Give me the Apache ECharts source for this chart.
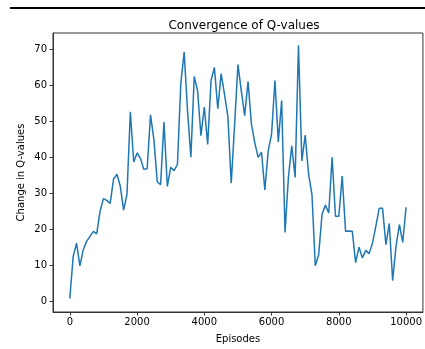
<!DOCTYPE html>
<html>
<head>
<meta charset="utf-8">
<script src="https://cdn.jsdelivr.net/npm/echarts@6/dist/echarts.min.js"></script>
<style>
  html, body { margin: 0; padding: 0; background: #fff; }
  #chart { width: 425px; height: 349px; }
</style>
</head>
<body>
<div id="chart"></div>
<script>
// Episodes sampled every 100 steps
const episodes = [];
for (let e = 0; e <= 10000; e += 100) episodes.push(e);

// Change in Q-values per sampled episode
const qChange = [
  0.7, 12.4, 16.1, 9.8, 14.3, 16.6, 18.0, 19.4, 18.7, 25.0,
  28.5, 28.0, 27.2, 33.9, 35.3, 32.0, 25.3, 29.7, 52.7, 38.7,
  41.2, 39.7, 36.7, 36.8, 51.8, 45.0, 33.2, 32.4, 49.8, 31.9,
  37.2, 36.3, 38.0, 60.5, 69.3, 53.0, 40.0, 62.5, 58.5, 46.0,
  54.0, 43.6, 61.4, 65.0, 53.5, 63.3, 57.5, 51.4, 32.8, 49.0,
  65.8, 58.5, 51.6, 61.1, 49.3, 44.1, 40.0, 41.4, 30.9, 41.8,
  46.5, 61.4, 44.3, 55.8, 19.1, 34.4, 43.2, 34.4, 71.2, 39.0,
  46.2, 35.3, 29.7, 9.8, 12.9, 24.1, 26.7, 24.5, 40.0, 23.6,
  23.6, 34.8, 19.4, 19.5, 19.4, 10.7, 15.0, 12.0, 14.1, 13.2,
  16.1, 20.8, 25.8, 25.8, 15.7, 21.6, 5.7, 15.2, 21.3, 16.3,
  26.1
];

const xTicks = [0, 2000, 4000, 6000, 8000, 10000];
const yTicks = [0, 10, 20, 30, 40, 50, 60, 70];

const font = 'DejaVu Sans';
const chart = echarts.init(document.getElementById('chart'), null, { renderer: 'canvas' });

chart.setOption({
  animation: false,
  backgroundColor: '#fff',
  title: {
    text: 'Convergence of Q-values',
    left: 239, top: 15, textAlign: 'center',
    textStyle: { fontFamily: font, fontSize: 12, fontWeight: 'normal', color: '#000' }
  },
  grid: {
    left: 53, top: 33, width: 373, height: 279,
    show: true, borderColor: '#333', borderWidth: 1, backgroundColor: 'transparent'
  },
  xAxis: {
    type: 'value', min: -500, max: 10500,
    name: 'Episodes', nameLocation: 'middle', nameGap: 22,
    nameTextStyle: { fontFamily: font, fontSize: 10, color: '#000' },
    axisLine: { show: true, onZero: false, lineStyle: { color: '#333', width: 1 } },
    axisTick: { show: true, length: 3.5, customValues: xTicks, lineStyle: { color: '#333' } },
    axisLabel: {
      customValues: xTicks, margin: 5, fontFamily: font, fontSize: 10, color: '#000',
      formatter: v => String(v)
    },
    splitLine: { show: false }
  },
  yAxis: {
    type: 'value', min: -3.05, max: 74.6,
    name: 'Change in Q-values', nameLocation: 'middle', nameGap: 27,
    nameMoveOverlap: false,
    nameTextStyle: { fontFamily: font, fontSize: 10, color: '#000' },
    axisLine: { show: true, onZero: false, lineStyle: { color: '#333', width: 1 } },
    axisTick: { show: true, length: 3.5, customValues: yTicks, lineStyle: { color: '#333' } },
    axisLabel: {
      customValues: yTicks, margin: 6, fontFamily: font, fontSize: 10, color: '#000',
      formatter: v => String(v)
    },
    splitLine: { show: false }
  },
  graphic: [{
    type: 'line', silent: true,
    shape: { x1: 10, y1: 8, x2: 425, y2: 8 },
    style: { stroke: '#000', lineWidth: 2 }
  }],
  series: [{
    type: 'line',
    data: episodes.map((e, i) => [e, qChange[i]]),
    showSymbol: false,
    lineStyle: { color: '#1f77b4', width: 1.5 },
    clip: false
  }]
});
</script>
</body>
</html>
